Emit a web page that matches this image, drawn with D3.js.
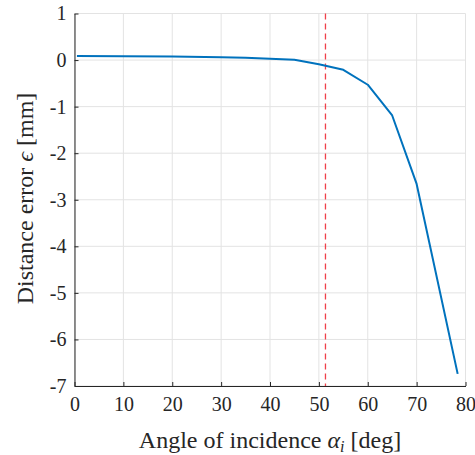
<!DOCTYPE html>
<html>
<head>
<meta charset="utf-8">
<script src="https://cdn.jsdelivr.net/npm/d3@7"></script>
<style>
  html, body { margin: 0; padding: 0; background: #fff; }
  svg { display: block; }
  svg text { font-family: "Liberation Serif", "DejaVu Serif", serif !important; fill: #262626; }
</style>
</head>
<body>
<svg id="chart" width="475" height="455"></svg>
<script>
// ---- data ----
const angles = [0.5, 10, 20, 30, 35, 40, 45, 47.5, 50, 55, 60, 65, 70, 78.4];
const errors = [0.087, 0.083, 0.075, 0.062, 0.05, 0.03, 0.005, -0.04, -0.09, -0.21, -0.53, -1.19, -2.66, -6.74];
const thresholdAngle = [51.35];
const xTicks = [0, 10, 20, 30, 40, 50, 60, 70, 80];
const yTicks = [1, 0, -1, -2, -3, -4, -5, -6, -7];
const xDomain = [0, 80];
const yDomain = [-7, 1];

// ---- layout ----
const svg = d3.select("#chart");
const mLeft = 74.5, mRight = 465.5, mTop = 13.5, mBottom = 386;
const x = d3.scaleLinear().domain(xDomain).range([mLeft, mRight]);
const y = d3.scaleLinear().domain(yDomain).range([mBottom, mTop]);

const gridColor = "#e3e3e3";
const axisColor = "#262626";
const fontFam = "'Liberation Serif', 'DejaVu Serif', serif";

// grid
const grid = svg.append("g");
grid.selectAll("line.gx").data(xTicks).join("line")
  .attr("x1", d => x(d)).attr("x2", d => x(d))
  .attr("y1", mTop).attr("y2", mBottom)
  .attr("stroke", gridColor).attr("stroke-width", 1);
grid.selectAll("line.gy").data(yTicks).join("line")
  .attr("y1", d => y(d)).attr("y2", d => y(d))
  .attr("x1", mLeft).attr("x2", mRight)
  .attr("stroke", gridColor).attr("stroke-width", 1);

// axes (inward ticks, MATLAB style)
const xAxis = d3.axisBottom(x).tickValues(xTicks).tickSizeInner(-4).tickSizeOuter(0).tickPadding(11);
const gx = svg.append("g").attr("transform", `translate(0,${mBottom})`).call(xAxis);
gx.attr("font-family", fontFam);
gx.select(".domain").attr("stroke", axisColor).attr("stroke-width", 1);
gx.selectAll(".tick line").attr("stroke", axisColor);
gx.selectAll(".tick text").attr("font-size", 20).style("font-family", fontFam).attr("fill", axisColor).attr("dy", "0.71em");

const yAxis = d3.axisLeft(y).tickValues(yTicks).tickSizeInner(-4).tickSizeOuter(0).tickPadding(8).tickFormat(d3.format("d"));
const gy = svg.append("g").attr("transform", `translate(${mLeft},0)`).call(yAxis);
gy.attr("font-family", fontFam);
gy.select(".domain").attr("stroke", axisColor).attr("stroke-width", 1);
gy.selectAll(".tick line").attr("stroke", axisColor);
gy.selectAll(".tick text").attr("font-size", 20).style("font-family", fontFam).attr("fill", axisColor)
  .text(d => d < 0 ? "-" + Math.abs(d) : String(d));

// threshold dashed line
svg.selectAll("line.thr").data(thresholdAngle).join("line")
  .attr("x1", d => x(d)).attr("x2", d => x(d))
  .attr("y1", mTop).attr("y2", mBottom)
  .attr("stroke", "#f0404a").attr("stroke-width", 1.3)
  .attr("stroke-dasharray", "6,4");

// data line
const pts = angles.map((a, i) => [a, errors[i]]);
svg.append("path").datum(pts)
  .attr("fill", "none").attr("stroke", "#0072BD").attr("stroke-width", 2)
  .attr("stroke-linejoin", "round")
  .attr("d", d3.line().x(d => x(d[0])).y(d => y(d[1])));

// axis titles
const xt = svg.append("text").attr("x", (mLeft + mRight) / 2).attr("y", 448)
  .attr("text-anchor", "middle").attr("font-size", 24).style("font-family", fontFam);
xt.append("tspan").text("Angle of incidence ");
xt.append("tspan").attr("font-style", "italic").text("α");
xt.append("tspan").attr("font-style", "italic").attr("font-size", 16).attr("dy", 4).text("i");
xt.append("tspan").attr("dy", -4).text(" [deg]");

const yt = svg.append("text")
  .attr("transform", `translate(33,${198.5}) rotate(-90)`)
  .attr("text-anchor", "middle").attr("font-size", 24).style("font-family", fontFam);
yt.append("tspan").text("Distance error ");
yt.append("tspan").attr("font-style", "italic").text("ϵ");
yt.append("tspan").text(" [mm]");
</script>
</body>
</html>
